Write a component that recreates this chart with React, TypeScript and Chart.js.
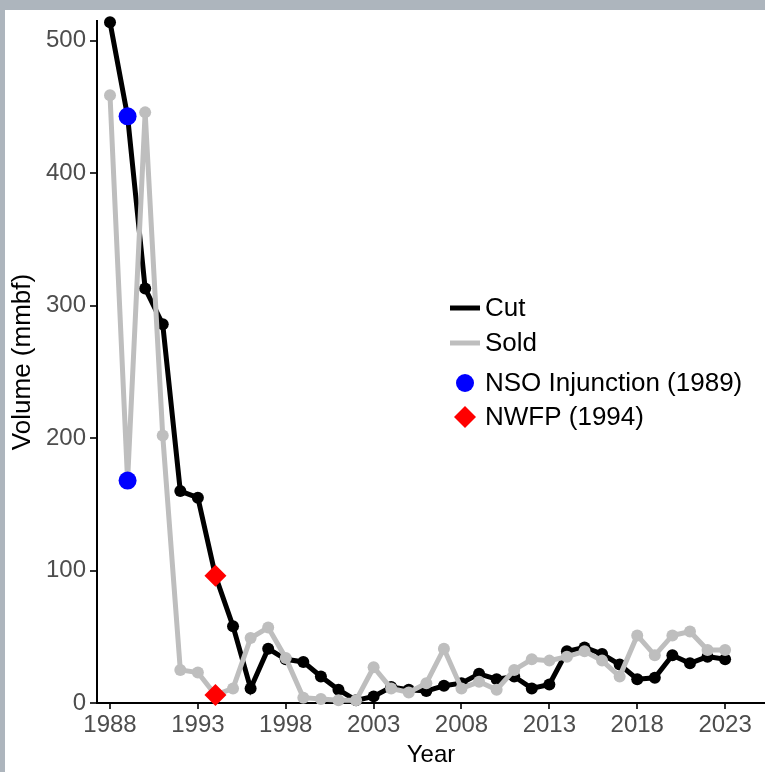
import React, { useEffect, useRef } from "react";
import { Chart, registerables } from "chart.js";

Chart.register(...registerables);

const years = [
  1988, 1989, 1990, 1991, 1992, 1993, 1994, 1995, 1996, 1997, 1998, 1999,
  2000, 2001, 2002, 2003, 2004, 2005, 2006, 2007, 2008, 2009, 2010, 2011,
  2012, 2013, 2014, 2015, 2016, 2017, 2018, 2019, 2020, 2021, 2022, 2023,
];
const cutVolume = [
  514, 443, 313, 286, 160, 155, 96, 58, 11, 41, 33, 31,
  20, 10, 2, 5, 12, 10, 9, 13, 15, 22, 18, 20,
  11, 14, 39, 42, 37, 29, 18, 19, 36, 30, 35, 33,
];
const soldVolume = [
  459, 168, 446, 202, 25, 23, 6, 11, 49, 57, 34, 4,
  3, 2, 2, 27, 11, 8, 15, 41, 11, 16, 10, 25,
  33, 32, 35, 39, 32, 20, 51, 36, 51, 54, 40, 40,
];
const nsoYears = [1989];
const nwfpYears = [1994];
const xTickLabels = [1988, 1993, 1998, 2003, 2008, 2013, 2018, 2023];
const yTickLabels = [0, 100, 200, 300, 400, 500];
const legendLabels = ["Cut", "Sold", "NSO Injunction (1989)", "NWFP (1994)"];

const FONT = "'Liberation Sans', Arial, Helvetica, sans-serif";

function eventPoints(eventYears: number[]) {
  const pts: { x: number; y: number }[] = [];
  eventYears.forEach((yr) => {
    const i = years.indexOf(yr);
    pts.push({ x: yr, y: cutVolume[i] });
    pts.push({ x: yr, y: soldVolume[i] });
  });
  return pts;
}

const legendPlugin = {
  id: "customLegend",
  afterDraw(chart: any) {
    const ctx = chart.ctx;
    const x0 = 445;
    const rows = [298, 333, 373, 407];
    ctx.save();
    ctx.font = `26px ${FONT}`;
    ctx.textBaseline = "middle";
    ctx.textAlign = "left";
    // Cut
    ctx.strokeStyle = "#000000";
    ctx.lineWidth = 5;
    ctx.beginPath();
    ctx.moveTo(x0, rows[0]);
    ctx.lineTo(x0 + 30, rows[0]);
    ctx.stroke();
    // Sold
    ctx.strokeStyle = "#bebebe";
    ctx.beginPath();
    ctx.moveTo(x0, rows[1]);
    ctx.lineTo(x0 + 30, rows[1]);
    ctx.stroke();
    // NSO
    ctx.fillStyle = "#0000ff";
    ctx.beginPath();
    ctx.arc(x0 + 15, rows[2], 9, 0, Math.PI * 2);
    ctx.fill();
    // NWFP
    ctx.fillStyle = "#ff0000";
    ctx.beginPath();
    ctx.moveTo(x0 + 15, rows[3] - 11);
    ctx.lineTo(x0 + 26, rows[3]);
    ctx.lineTo(x0 + 15, rows[3] + 11);
    ctx.lineTo(x0 + 4, rows[3]);
    ctx.closePath();
    ctx.fill();
    ctx.fillStyle = "#000000";
    legendLabels.forEach((lab, i) => {
      ctx.fillText(lab, x0 + 35, rows[i] + 1);
    });
    ctx.restore();
  },
};

export default function App() {
  const ref = useRef<HTMLCanvasElement | null>(null);
  useEffect(() => {
    if (!ref.current) return;
    const chart = new Chart(ref.current, {
      type: "line",
      data: {
        datasets: [
          {
            label: "NSO Injunction (1989)",
            data: eventPoints(nsoYears),
            showLine: false,
            pointStyle: "circle",
            pointRadius: 9,
            pointBackgroundColor: "#0000ff",
            pointBorderWidth: 0,
            borderColor: "#0000ff",
            order: 0,
            clip: false,
          } as any,
          {
            label: "NWFP (1994)",
            data: eventPoints(nwfpYears),
            showLine: false,
            pointStyle: "rectRot",
            pointRadius: 11,
            pointBackgroundColor: "#ff0000",
            pointBorderWidth: 0,
            borderColor: "#ff0000",
            order: 0,
            clip: false,
          } as any,
          {
            label: "Sold",
            data: years.map((y, i) => ({ x: y, y: soldVolume[i] })),
            borderColor: "#bebebe",
            backgroundColor: "#bebebe",
            borderWidth: 5,
            pointRadius: 6,
            pointBackgroundColor: "#bebebe",
            pointBorderWidth: 0,
            tension: 0,
            order: 1,
            clip: false,
          } as any,
          {
            label: "Cut",
            data: years.map((y, i) => ({ x: y, y: cutVolume[i] })),
            borderColor: "#000000",
            backgroundColor: "#000000",
            borderWidth: 5,
            pointRadius: 6,
            pointBackgroundColor: "#000000",
            pointBorderWidth: 0,
            tension: 0,
            order: 2,
            clip: false,
          } as any,
        ],
      },
      options: {
        animation: false,
        responsive: false,
        devicePixelRatio: 1,
        layout: { autoPadding: false, padding: { top: 11, right: 0, left: 0, bottom: 0 } },
        plugins: {
          legend: { display: false },
          tooltip: { enabled: false },
        },
        scales: {
          x: {
            type: "linear",
            min: 1987.26,
            max: 2025.27,
            afterBuildTicks: (scale: any) => {
              scale.ticks = xTickLabels.map((v) => ({ value: v }));
            },
            afterFit: (scale: any) => {
              scale.height = 69;
              scale.paddingLeft = 0;
              scale.paddingRight = 0;
            },
            ticks: {
              color: "#4d4d4d",
              font: { family: FONT, size: 24 },
              padding: 2,
              maxRotation: 0,
              autoSkip: false,
              callback: (v: any) => String(v),
            },
            grid: {
              drawOnChartArea: false,
              drawTicks: true,
              tickLength: 6,
              color: "#333333",
              lineWidth: 2,
            },
            border: { display: true, color: "#000000", width: 2 },
            title: {
              display: true,
              text: "Year",
              color: "#000000",
              font: { family: FONT, size: 24 },
              padding: { top: 0, bottom: 2 },
            },
          },
          y: {
            type: "linear",
            min: 0,
            max: 515,
            afterBuildTicks: (scale: any) => {
              scale.ticks = yTickLabels.map((v) => ({ value: v }));
            },
            afterFit: (scale: any) => {
              scale.width = 92;
              scale.paddingTop = 0;
              scale.paddingBottom = 0;
            },
            ticks: {
              color: "#4d4d4d",
              font: { family: FONT, size: 24 },
              padding: 4,
              callback: (v: any) => String(v),
            },
            grid: {
              drawOnChartArea: false,
              drawTicks: true,
              tickLength: 7,
              color: "#333333",
              lineWidth: 2,
            },
            border: { display: true, color: "#000000", width: 2 },
            title: {
              display: true,
              text: "Volume (mmbf)",
              color: "#000000",
              font: { family: FONT, size: 26 },
              padding: { top: 2, bottom: 0 },
            },
          },
        },
      },
      plugins: [legendPlugin],
    } as any);
    return () => chart.destroy();
  }, []);

  return (
    <div
      style={{
        position: "fixed",
        left: 0,
        top: 0,
        width: 765,
        height: 772,
        background: "#adb5bd",
        overflow: "hidden",
      }}
    >
      <div
        style={{
          position: "absolute",
          left: 5,
          top: 10,
          width: 760,
          height: 762,
          background: "#ffffff",
        }}
      >
        <canvas ref={ref} width={760} height={762} style={{ display: "block", width: 760, height: 762 }} />
      </div>
    </div>
  );
}
